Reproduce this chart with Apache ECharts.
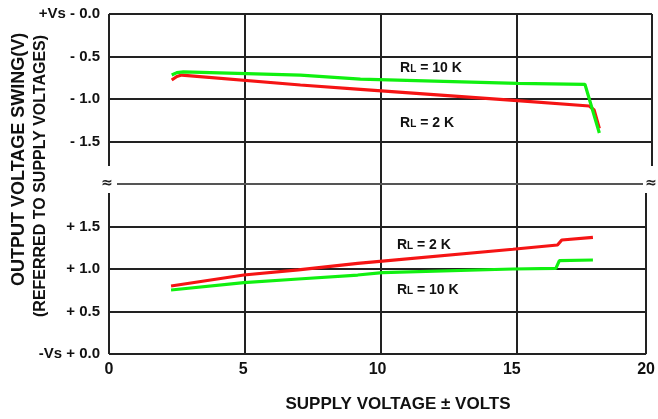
<!DOCTYPE html>
<html>
<head>
<meta charset="utf-8">
<script src="https://cdn.jsdelivr.net/npm/echarts@6/dist/echarts.min.js"></script>
<style>
html,body{margin:0;padding:0;background:#fff;}
#chart{width:658px;height:419px;}
</style>
</head>
<body>
<div id="chart"></div>
<script>
// ---- data ----
const xTicks = [0, 5, 10, 15, 20];
const topTicks = [0, -0.5, -1.0, -1.5];
const topTickLabels = ['+Vs - 0.0', '- 0.5', '- 1.0', '- 1.5'];
const botTicks = [0, 0.5, 1.0, 1.5];
const botTickLabels = ['-Vs + 0.0', '+ 0.5', '+ 1.0', '+ 1.5'];

// top panel (referred to +Vs)
const top10kX = [2.31, 2.5, 2.74, 7.05, 9.26, 15.04, 17.53, 18.06];
const top10kY = [-0.718, -0.69, -0.68, -0.718, -0.765, -0.815, -0.827, -1.40];
const top2kX  = [2.31, 2.5, 2.68, 7.05, 9.26, 15.04, 17.69, 17.87, 18.06];
const top2kY  = [-0.776, -0.735, -0.718, -0.835, -0.886, -1.02, -1.082, -1.13, -1.345];
// bottom panel (referred to -Vs)
const bot2kX  = [2.31, 5.02, 7.05, 9.26, 15.04, 16.7, 16.86, 18.02];
const bot2kY  = [0.80, 0.929, 0.99, 1.067, 1.232, 1.282, 1.341, 1.373];
const bot10kX = [2.31, 5.02, 7.05, 9.26, 10.18, 15.04, 16.64, 16.77, 18.02];
const bot10kY = [0.753, 0.839, 0.882, 0.929, 0.957, 1.0, 1.008, 1.098, 1.106];

// annotation labels
const topLabels = [['10', 10.72, -0.635], ['2', 10.72, -1.282]];
const botLabels = [['2', 10.72, 1.282], ['10', 10.72, 0.753]];

const pairs = (xs, ys) => xs.map((x, i) => [x, ys[i]]);
const tickFont = 'Liberation Sans, Arial, sans-serif';
const gridLine = { show: true, lineStyle: { color: '#222', width: 2, type: 'solid' } };
const GREEN = '#10f010';
const RED = '#f51414';

function rlMark(list) {
  return {
    symbol: 'circle', symbolSize: 0, silent: true,
    label: {
      show: true, position: 'inside', align: 'left', verticalAlign: 'middle',
      formatter: p => '{r|R}{s|L}{r| = ' + p.name + ' K}',
      rich: {
        r: { fontSize: 14, fontWeight: 'bold', fontFamily: 'Liberation Sans, Arial, sans-serif', color: '#111', verticalAlign: 'bottom' },
        s: { fontSize: 10, fontWeight: 'bold', fontFamily: 'Liberation Sans, Arial, sans-serif', color: '#111', verticalAlign: 'bottom', padding: [0, 0, 1, 0] }
      }
    },
    data: list.map(l => ({ name: l[0], coord: [l[1], l[2]] }))
  };
}

const chart = echarts.init(document.getElementById('chart'), null, { renderer: 'canvas' });
const option = {
  animation: false,
  backgroundColor: '#fff',
  grid: [
    { left: 109, right: 6, top: 14, height: 152 },
    { left: 109, right: 6, top: 193, height: 161 },
    { left: 109, right: 6, top: 14, height: 340 }
  ],
  xAxis: [
    { gridIndex: 0, type: 'value', min: 0, max: 20,
      axisLine: { show: false }, axisTick: { show: false, customValues: [0, 20] },
      axisLabel: { show: false }, splitLine: gridLine },
    { gridIndex: 1, type: 'value', min: 0, max: 20,
      axisLine: { show: false }, axisTick: { show: false, customValues: [0, 20] },
      axisLabel: { show: true, customValues: xTicks, margin: 8, fontSize: 16, fontWeight: 'bold', color: '#111', fontFamily: tickFont },
      splitLine: gridLine },
    { gridIndex: 2, type: 'value', min: 0, max: 20,
      axisLine: { show: false }, axisTick: { show: false, customValues: [5, 10, 15] },
      axisLabel: { show: false }, splitLine: gridLine }
  ],
  yAxis: [
    { gridIndex: 0, type: 'value', min: -1.788, max: 0,
      axisLine: { show: false }, axisTick: { show: false, customValues: topTicks },
      axisLabel: { show: true, customValues: topTicks, margin: 9, fontSize: 15, fontWeight: 'bold', color: '#111', fontFamily: tickFont,
        formatter: v => { const i = topTicks.findIndex(t => Math.abs(t - v) < 1e-6); return i >= 0 ? topTickLabels[i] : ''; } },
      splitLine: gridLine },
    { gridIndex: 1, type: 'value', min: 0, max: 1.894,
      axisLine: { show: false }, axisTick: { show: false, customValues: botTicks },
      axisLabel: { show: true, customValues: botTicks, margin: 9, fontSize: 15, fontWeight: 'bold', color: '#111', fontFamily: tickFont,
        formatter: v => { const i = botTicks.findIndex(t => Math.abs(t - v) < 1e-6); return i >= 0 ? botTickLabels[i] : ''; } },
      splitLine: gridLine },
    { gridIndex: 2, type: 'value', min: 0, max: 1, show: false, splitLine: { show: false } }
  ],
  series: [
    { type: 'line', name: 'top10k', xAxisIndex: 0, yAxisIndex: 0, data: pairs(top10kX, top10kY),
      showSymbol: false, lineStyle: { color: GREEN, width: 3.2 }, itemStyle: { color: GREEN }, z: 4,
      markPoint: rlMark([topLabels[0]]) },
    { type: 'line', name: 'top2k', xAxisIndex: 0, yAxisIndex: 0, data: pairs(top2kX, top2kY),
      showSymbol: false, lineStyle: { color: RED, width: 3.2 }, itemStyle: { color: RED }, z: 3,
      markPoint: rlMark([topLabels[1]]) },
    { type: 'line', name: 'bot2k', xAxisIndex: 1, yAxisIndex: 1, data: pairs(bot2kX, bot2kY),
      showSymbol: false, lineStyle: { color: RED, width: 3.2 }, itemStyle: { color: RED }, z: 3,
      markPoint: rlMark([botLabels[0]]) },
    { type: 'line', name: 'bot10k', xAxisIndex: 1, yAxisIndex: 1, data: pairs(bot10kX, bot10kY),
      showSymbol: false, lineStyle: { color: GREEN, width: 3.2 }, itemStyle: { color: GREEN }, z: 4,
      markPoint: rlMark([botLabels[1]]) }
  ],
  graphic: [
    { type: 'line', shape: { x1: 117, y1: 184, x2: 643, y2: 184 }, style: { stroke: '#555', lineWidth: 2 }, z: 1 },
    { type: 'text', x: 107, y: 183, style: { text: '≈', fontSize: 14, fontWeight: 'bold', fill: '#222', align: 'center', verticalAlign: 'middle', fontFamily: 'DejaVu Sans, sans-serif' } },
    { type: 'text', x: 651, y: 183, style: { text: '≈', fontSize: 14, fontWeight: 'bold', fill: '#222', align: 'center', verticalAlign: 'middle', fontFamily: 'DejaVu Sans, sans-serif' } },
    { type: 'text', x: 398, y: 404, style: { text: 'SUPPLY VOLTAGE ± VOLTS', fontSize: 17, fontWeight: 'bold', fill: '#111', align: 'center', verticalAlign: 'middle', fontFamily: 'Liberation Sans, Arial, sans-serif' } },
    { type: 'text', x: 19, y: 286, rotation: Math.PI / 2,
      style: { text: 'OUTPUT VOLTAGE SWING(V)', fontSize: 18, fontWeight: 'bold', fill: '#111', align: 'left', verticalAlign: 'middle', fontFamily: 'Liberation Sans, Arial, sans-serif' } },
    { type: 'text', x: 41, y: 317, rotation: Math.PI / 2,
      style: { text: '(REFERRED TO SUPPLY VOLTAGES)', fontSize: 16, fontWeight: 'bold', fill: '#111', align: 'left', verticalAlign: 'middle', fontFamily: 'Liberation Sans, Arial, sans-serif' } }
  ]
};
chart.setOption(option);
</script>
</body>
</html>
